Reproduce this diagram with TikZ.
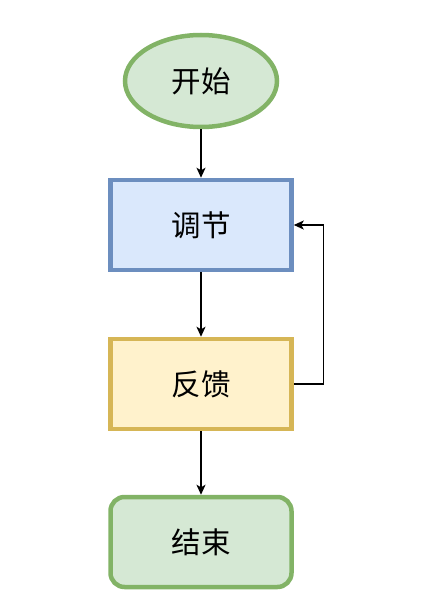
\documentclass[tikz,border=0pt]{standalone}
\usepackage{fontspec}
\newfontfamily\cjk{Noto Sans CJK SC}
\usetikzlibrary{shapes.geometric,arrows.meta}
\definecolor{gfill}{HTML}{D5E8D4}\definecolor{gline}{HTML}{82B366}
\definecolor{bfill}{HTML}{DAE8FC}\definecolor{bline}{HTML}{6C8EBF}
\definecolor{yfill}{HTML}{FFF2CC}\definecolor{yline}{HTML}{D6B656}
\tikzset{
  x=1pt,y=-1pt,
  lbl/.style={font=\cjk\fontsize{29.5}{32}\selectfont, text=black},
  boxnode/.style={rectangle, minimum width=181pt, minimum height=90pt, line width=4.5pt, lbl},
  conn/.style={line width=1.4pt, -{Stealth[length=10pt,width=9pt,inset=2.5pt]}}
}
\begin{document}
\begin{tikzpicture}
\useasboundingbox (0,0) rectangle (439,591);
\node[ellipse, minimum width=152pt, minimum height=92pt, inner sep=0pt, line width=4.5pt, draw=gline, fill=gfill, lbl] (start) at (201,81) {开始};
\node[boxnode, draw=bline, fill=bfill] (adj) at (201,225) {调节};
\node[boxnode, draw=yline, fill=yfill] (fb) at (201,384) {反馈};
\node[boxnode, rounded corners=14pt, draw=gline, fill=gfill] (end) at (201,542) {结束};
\draw[conn] (start) -- (adj);
\draw[conn] (adj) -- (fb);
\draw[conn] (fb) -- (end);
\draw[conn] (fb.east) -- ++(30,0) |- (adj.east);
\end{tikzpicture}
\end{document}
